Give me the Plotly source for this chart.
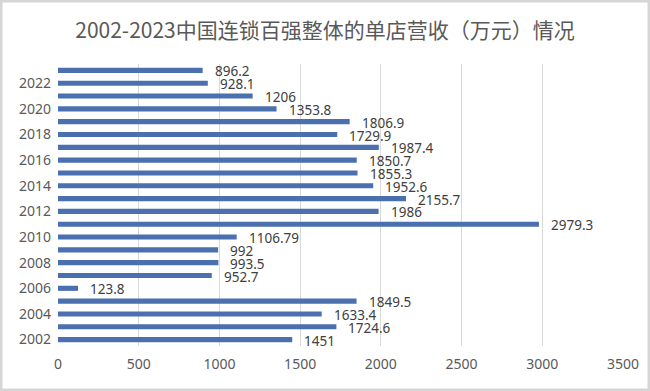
import plotly.graph_objects as go

years = list(range(2002, 2024))
values = [1451, 1724.6, 1633.4, 1849.5, 123.8, 952.7, 993.5, 992, 1106.79, 2979.3,
          1986, 2155.7, 1952.6, 1855.3, 1850.7, 1987.4, 1729.9, 1806.9, 1353.8, 1206,
          928.1, 896.2]
labels = ["1451", "1724.6", "1633.4", "1849.5", "123.8", "952.7", "993.5", "992", "1106.79", "2979.3",
          "1986", "2155.7", "1952.6", "1855.3", "1850.7", "1987.4", "1729.9", "1806.9", "1353.8", "1206",
          "928.1", "896.2"]
title = "2002-2023中国连锁百强整体的单店营收（万元）情况"
x_ticks = [0, 500, 1000, 1500, 2000, 2500, 3000, 3500]
y_ticks = list(range(2002, 2023, 2))

W, H = 650, 391
ML, MR, MT, MB = 58, 27, 64, 45
pw, ph = W - ML - MR, H - MT - MB

fig = go.Figure()
fig.add_trace(go.Bar(
    x=values, y=years, orientation="h",
    marker=dict(color="#4A70B0", line=dict(width=0)),
    width=0.4,
    hoverinfo="x+y",
))

for v, yv, t in zip(values, years, labels):
    fig.add_annotation(x=v, y=yv, text=t, showarrow=False, xanchor="left",
                       xshift=10, yshift=-1,
                       font=dict(family="Noto Sans, Open Sans, sans-serif", size=13.5, color="#404040"))

fig.add_shape(type="rect", xref="paper", yref="paper",
              x0=-(ML - 1) / pw, x1=1 + (MR - 1) / pw,
              y0=-(MB - 1) / ph, y1=1 + (MT - 1) / ph,
              line=dict(color="#d6d6d6", width=3), fillcolor="rgba(0,0,0,0)", layer="above")

fig.update_layout(
    width=W, height=H,
    margin=dict(l=ML, r=MR, t=MT, b=MB, autoexpand=False),
    paper_bgcolor="white", plot_bgcolor="white",
    title=dict(text=title, x=0.5, xanchor="center", y=1 - 31 / H, yanchor="middle",
               font=dict(family="Noto Sans CJK SC, sans-serif", size=21, color="#595959")),
    showlegend=False,
    xaxis=dict(range=[0, 3500], tickvals=x_ticks, showgrid=True, gridcolor="#d9d9d9",
               gridwidth=1, zeroline=False, showline=False, ticks="", automargin=False,
               tickfont=dict(family="Noto Sans, Open Sans, sans-serif", size=14, color="#595959"),
               ticklabelstandoff=8),
    yaxis=dict(range=[2001.5, 2023.5], tickvals=y_ticks, showgrid=False, zeroline=False,
               showline=False, ticks="", automargin=False,
               tickfont=dict(family="Noto Sans, Open Sans, sans-serif", size=14, color="#595959"),
               ticklabelstandoff=6),
)

fig.write_html("out.html", config={"displayModeBar": False},
               post_script="document.body.style.margin='0';document.body.style.overflow='hidden';")
